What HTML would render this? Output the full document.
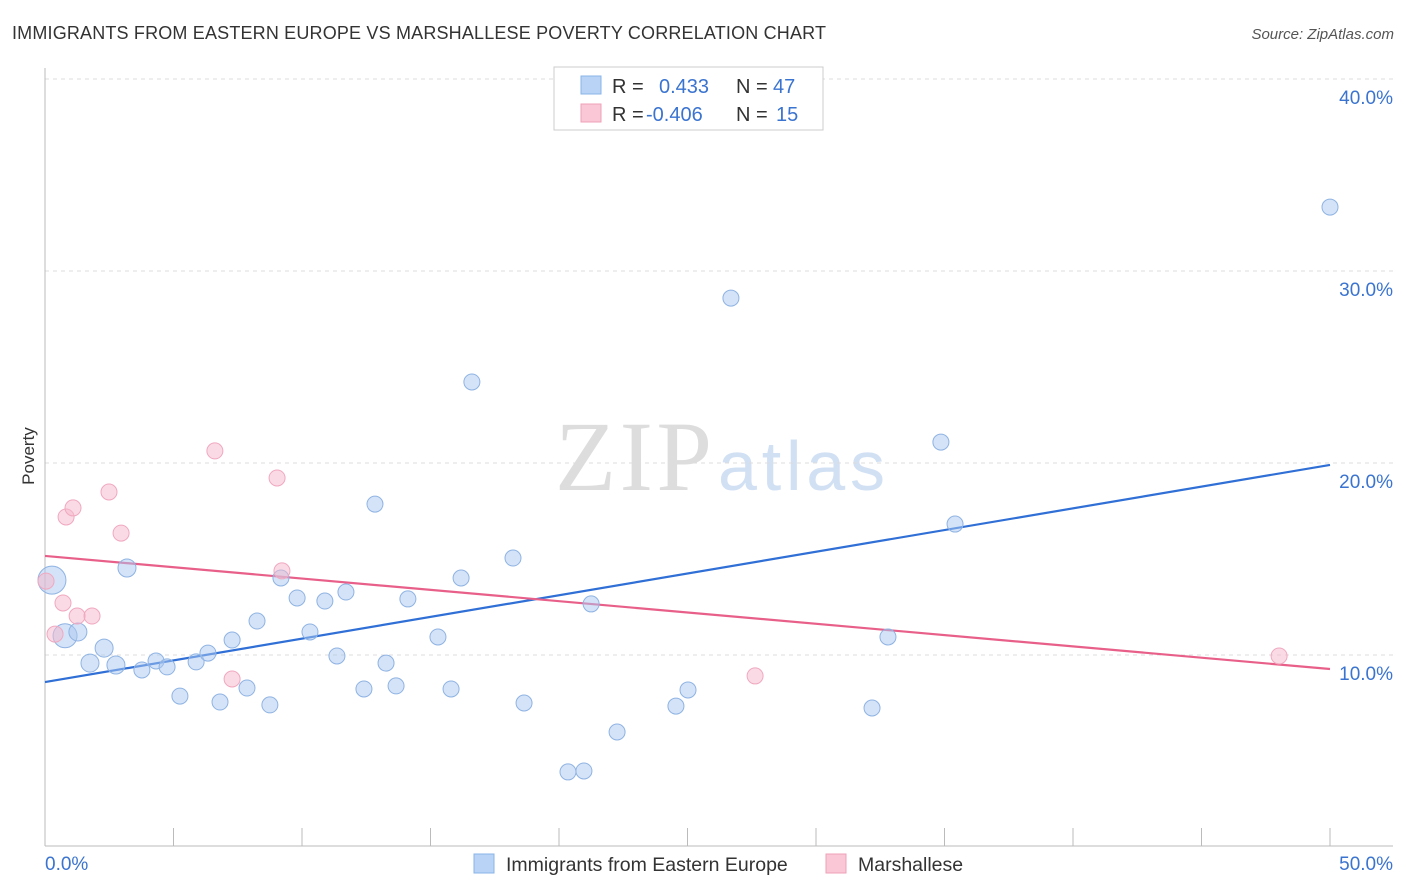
<!DOCTYPE html>
<html><head><meta charset="utf-8">
<style>
body{margin:0;background:#fff;font-family:"Liberation Sans",sans-serif;}
#wrap{position:relative;width:1406px;height:892px;overflow:hidden;}
</style></head>
<body>
<div id="wrap">
<svg id="chart" width="1406" height="892" xmlns="http://www.w3.org/2000/svg">
  <text x="12" y="39" font-size="18" fill="#333" textLength="814">IMMIGRANTS FROM EASTERN EUROPE VS MARSHALLESE POVERTY CORRELATION CHART</text>
  <text x="1394" y="39" font-size="15" fill="#555" font-style="italic" text-anchor="end">Source: ZipAtlas.com</text>
  <text x="555" y="490" font-size="100" fill="#ddd" font-family="Liberation Serif,serif" textLength="157">ZIP</text>
  <text x="718" y="490" font-size="70" fill="#d2e0f4" textLength="167">atlas</text>
  <g id="grid"></g>
  <g id="axes"></g>
  <g id="trends"></g>
  <g id="points"></g>
  <text x="34" y="456" font-size="17" fill="#333" text-anchor="middle" transform="rotate(-90 34 456)">Poverty</text>
  <g>
    <rect x="554" y="67" width="269" height="63" fill="#fff" stroke="#ccc"/>
    <rect x="581" y="76" width="20" height="18" fill="#b8d3f5" stroke="#8ab4e8"/>
    <rect x="581" y="104" width="20" height="18" fill="#f9c7d6" stroke="#f0a0b8"/>
    <text x="612" y="93" font-size="20" fill="#333">R = </text>
    <text x="659" y="93" font-size="20" fill="#3a74d0">0.433</text>
    <text x="736" y="93" font-size="20" fill="#333">N = </text>
    <text x="773" y="93" font-size="20" fill="#3a74d0">47</text>
    <text x="612" y="121" font-size="20" fill="#333">R = </text>
    <text x="646" y="121" font-size="20" fill="#3a74d0">-0.406</text>
    <text x="736" y="121" font-size="20" fill="#333">N = </text>
    <text x="776" y="121" font-size="20" fill="#3a74d0">15</text>
  </g>
  <g>
    <rect x="474" y="854" width="20" height="19" fill="#b8d3f5" stroke="#8ab4e8"/>
    <text x="506" y="871" font-size="19.5" fill="#333">Immigrants from Eastern Europe</text>
    <rect x="826" y="854" width="20" height="19" fill="#f9c7d6" stroke="#f0a0b8"/>
    <text x="858" y="871" font-size="19.5" fill="#333">Marshallese</text>
  </g>
</svg>
</div>
<script>
const blueX=[0.27,0.78,1.28,1.75,2.30,2.76,3.19,3.77,4.32,4.75,5.25,5.88,6.34,6.81,7.28,7.86,8.25,8.75,9.18,9.81,10.31,10.89,11.36,11.71,12.41,12.84,13.27,13.66,14.12,15.29,15.80,16.19,16.61,18.21,18.64,20.35,20.97,21.25,22.26,24.55,25.02,26.69,32.18,32.80,34.86,35.41,50.0];
const blueY=[13.9,11.0,11.2,9.58,10.36,9.48,14.53,9.22,9.69,9.38,7.86,9.64,10.1,7.55,10.78,8.28,11.77,7.40,14.01,12.97,11.2,12.81,9.95,13.28,8.23,17.86,9.58,8.39,12.92,10.94,8.23,14.01,24.22,15.05,7.5,3.91,3.96,12.66,5.99,7.34,8.18,28.59,7.24,10.94,21.09,16.82,33.33];
const blueR=[14,12,9,9,9,9,9,8,8,8,8,8,8,8,8,8,8,8,8,8,8,8,8,8,8,8,8,8,8,8,8,8,8,8,8,8,8,8,8,8,8,8,8,8,8,8,8];
const pinkX=[0.04,0.39,0.70,0.82,1.09,1.25,1.83,2.49,2.96,6.61,7.28,9.03,9.22,27.63,48.02];
const pinkY=[13.85,11.09,12.71,17.19,17.66,12.03,12.03,18.49,16.35,20.63,8.75,19.22,14.38,8.91,9.95];
const blueTrend=[8.59,19.9];
const pinkTrend=[15.16,9.27];
const yTicks=[10,20,30,40];
const yTickLabels=["10.0%","20.0%","30.0%","40.0%"];
const xTicks=[0,5,10,15,20,25,30,35,40,45,50];

const NS="http://www.w3.org/2000/svg";
const sx=v=>45+v*25.7;
const sy=v=>847-v*19.2;
function mk(tag,attrs,parent){const e=document.createElementNS(NS,tag);for(const k in attrs)e.setAttribute(k,attrs[k]);parent.appendChild(e);return e;}
const grid=document.getElementById('grid'),axes=document.getElementById('axes'),tr=document.getElementById('trends'),pts=document.getElementById('points');
yTicks.forEach((t,i)=>{
  const l=mk('line',{x1:45,x2:1393,y1:sy(t),y2:sy(t),stroke:'#ddd','stroke-dasharray':'4,4'},grid);
  
  
  const tx=mk('text',{x:1393,y:sy(t)+25,'font-size':19,fill:'#3a74d0','text-anchor':'end'},grid);
  tx.textContent=yTickLabels[i];
  
  
});
const ax=mk('line',{x1:45,x2:1393,y1:846,y2:846,stroke:'#bbb'},axes);


const ay=mk('line',{x1:45,x2:45,y1:68,y2:846,stroke:'#bbb'},axes);


xTicks.forEach(t=>{
  const l=mk('line',{x1:sx(t),x2:sx(t),y1:828,y2:846,stroke:'#bbb'},axes);
  
  
});
const xl0=mk('text',{x:45,y:870,'font-size':19,fill:'#3a74d0'},axes);xl0.textContent='0.0%';


const xl1=mk('text',{x:1393,y:870,'font-size':19,fill:'#3a74d0','text-anchor':'end'},axes);xl1.textContent='50.0%';



blueX.forEach((x,i)=>{
  const c=mk('circle',{cx:sx(x),cy:sy(blueY[i]),r:blueR[i],fill:'rgba(169,200,240,0.5)',stroke:'#8fb3e3','stroke-width':1},pts);
  
  
});
pinkX.forEach((x,i)=>{
  const c=mk('circle',{cx:sx(x),cy:sy(pinkY[i]),r:8,fill:'rgba(245,184,203,0.5)',stroke:'#f0a8bf','stroke-width':1},pts);
  
  
});
const bt=mk('line',{x1:sx(0),y1:sy(blueTrend[0]),x2:sx(50),y2:sy(blueTrend[1]),stroke:'#2f6fd6','stroke-width':2.2},tr);


const pt=mk('line',{x1:sx(0),y1:sy(pinkTrend[0]),x2:sx(50),y2:sy(pinkTrend[1]),stroke:'#e8608a','stroke-width':2.2},tr);


</script>
</body></html>
